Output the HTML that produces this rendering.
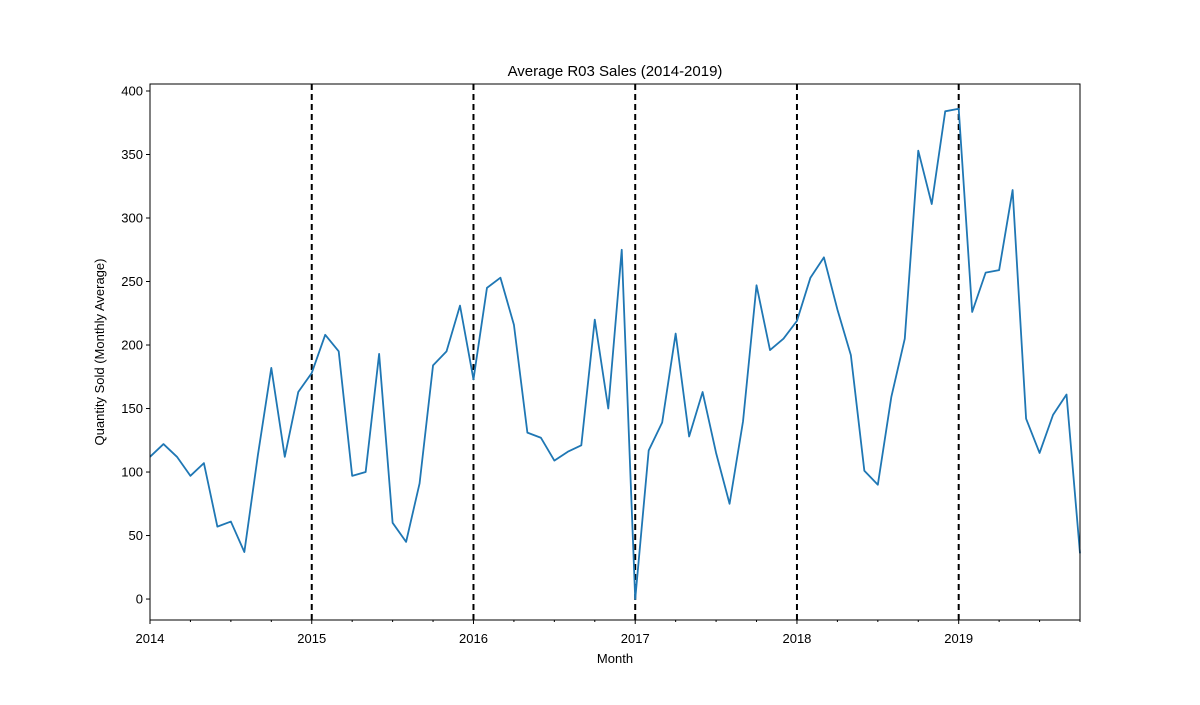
<!DOCTYPE html>
<html><head><meta charset="utf-8"><style>
body{margin:0;background:#fff;}
svg text{font-family:"Liberation Sans","DejaVu Sans",sans-serif;fill:#000;}
</style></head><body>
<svg id="chart" width="1200" height="700" xmlns="http://www.w3.org/2000/svg">
<rect width="1200" height="700" fill="#fff"/>
<text x="615" y="76" text-anchor="middle" font-size="15">Average R03 Sales (2014-2019)</text>
<text x="615" y="663" text-anchor="middle" font-size="13">Month</text>
<text transform="translate(104,352) rotate(-90)" text-anchor="middle" font-size="13">Quantity Sold (Monthly Average)</text>
<g id="grid"></g><g id="series"></g><g id="axes"></g>
</svg>
<script>
const years = [2014,2015,2016,2017,2018,2019];
const yTicks = [0,50,100,150,200,250,300,350,400];
const sales = [
112,122,112,97,107,57,61,37,113,182,112,163,
178,208,195,97,100,193,60,45,91,184,195,231,
173,245,253,216,131,127,109,116,121,220,150,275,
0,117,139,209,128,163,115,75,140,247,196,205,
219,253,269,228,192,101,90,159,205,353,311,384,
386,226,257,259,322,142,115,145,161,36];
const L=150,R=1080,T=84,B=620;
const yMin=-16.5,yMax=405.5;
const y=v=>B-(v-yMin)/(yMax-yMin)*(B-T);
const nM=sales.length-1;
const x=m=>L+m/nM*(R-L);
const NS="http://www.w3.org/2000/svg";
function mk(tag,attrs,parent){const e=document.createElementNS(NS,tag);for(const k in attrs)e.setAttribute(k,attrs[k]);parent.appendChild(e);return e;}
const grid=document.getElementById('grid'),ser=document.getElementById('series'),ax=document.getElementById('axes');
years.slice(1).forEach(yr=>{
  const xx=x((yr-2014)*12);
  const l=mk('line',{x1:xx,x2:xx,y1:T,y2:B,stroke:'#000','stroke-width':2,'stroke-dasharray':'6,4'},grid);
  
  
});
const pts=sales.map((v,i)=>x(i).toFixed(2)+','+y(v).toFixed(2)).join(' ');
const pl=mk('polyline',{points:pts,fill:'none',stroke:'#1f77b4','stroke-width':1.8,'stroke-linejoin':'round'},ser);


const fr=mk('rect',{x:L,y:T,width:R-L,height:B-T,fill:'none',stroke:'#000','stroke-width':1},ax);


yTicks.forEach(v=>{
  mk('line',{x1:L-4,x2:L,y1:y(v),y2:y(v),stroke:'#000'},ax);
  const t=mk('text',{x:L-7,y:y(v)+4.5,'text-anchor':'end','font-size':13},ax);
  t.textContent=v;
  
  
});
for(let m=0;m<=nM;m+=3){
  const major=m%12===0;
  mk('line',{x1:x(m),x2:x(m),y1:B,y2:B+(major?4:2),stroke:'#000'},ax);
}
years.forEach(yr=>{
  const t=mk('text',{x:x((yr-2014)*12),y:B+23,'text-anchor':'middle','font-size':13},ax);
  t.textContent=yr;
  
  
});
</script>
</body></html>
